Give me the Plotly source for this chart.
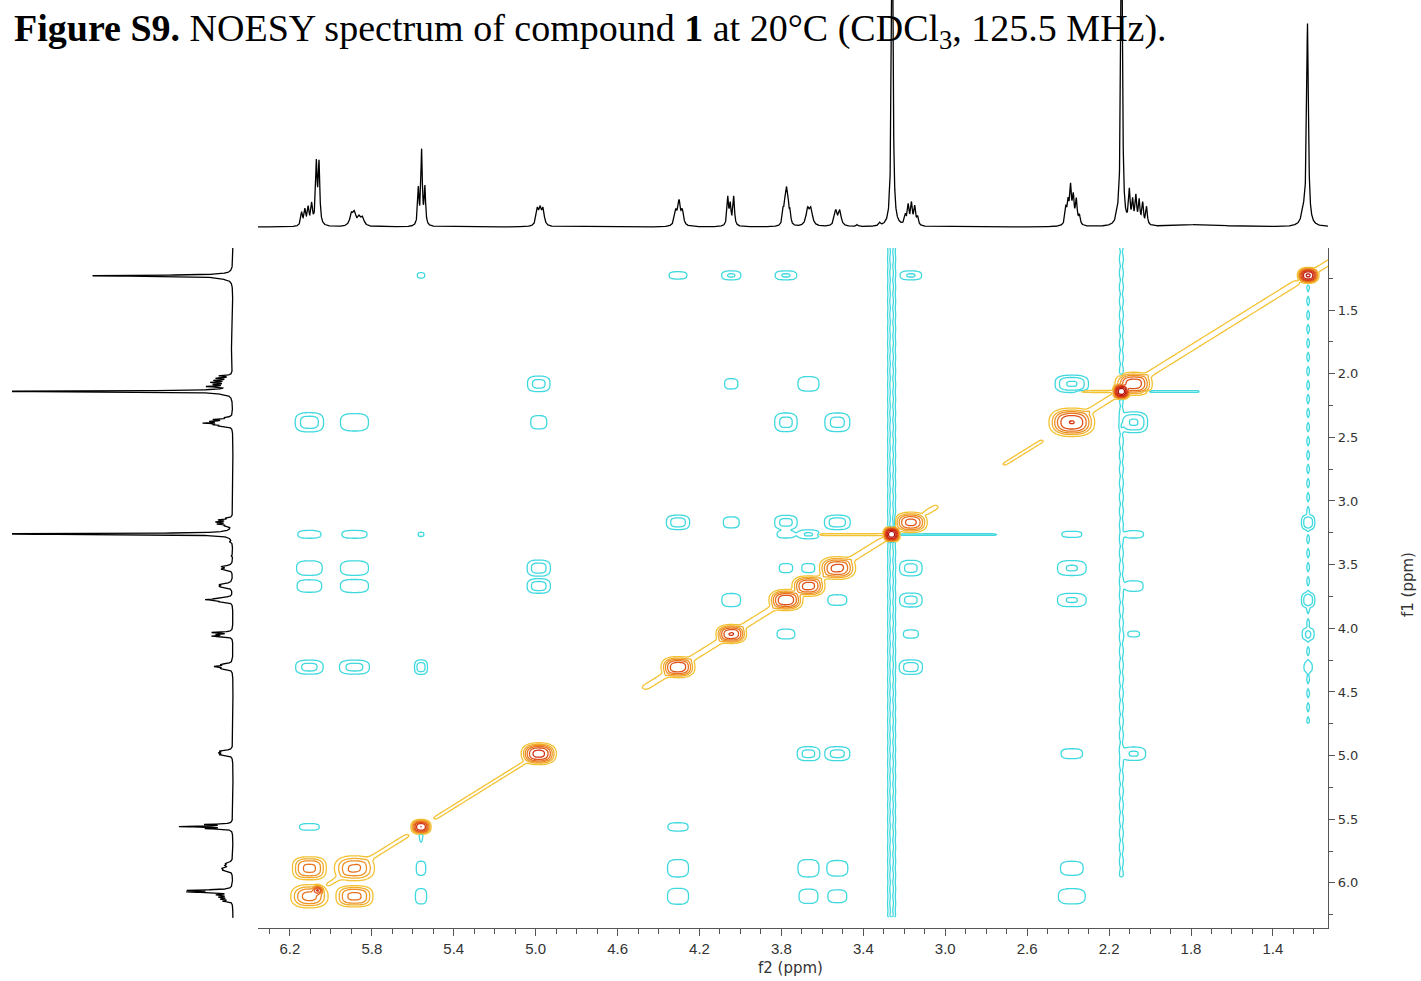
import numpy as np
import plotly.graph_objects as go

W, H = 1421, 981

# ---------------- 1D proton spectrum: line list (ppm, height, half-width) ----------------
line_ppm = [6.143, 6.127, 6.111, 6.094, 6.071, 6.058,
            5.900, 5.885, 5.862, 5.845,
            5.573, 5.557, 5.541,
            4.992, 4.978, 4.964,
            4.316, 4.300, 4.284,
            4.062, 4.050, 4.033,
            3.792, 3.783, 3.775, 3.767, 3.758,
            3.672, 3.656,
            3.535, 3.515,
            3.430, 3.320,
            3.259,
            3.195, 3.181, 3.165, 3.149, 3.135,
            2.411, 2.400, 2.388, 2.375, 2.360, 2.345,
            2.160, 2.139,
            2.101, 2.085, 2.069, 2.053, 2.036, 2.017,
            1.750,
            1.250, 1.231]
line_height = [13, 15, 17, 20, 60, 60,
               11, 12, 8, 8,
               36, 74, 37,
               16, 15, 16,
               14, 23, 14,
               28, 20, 29,
               14, 18, 30, 17, 12,
               16, 16,
               15, 15,
               2, 3,
               400,
               9, 19, 21, 18, 8,
               16, 20, 36, 26, 24, 9,
               6, 400,
               32, 22, 27, 23, 21, 18,
               2.5,
               12, 200]
line_hw = [0.005, 0.005, 0.005, 0.005, 0.0045, 0.0045,
           0.009, 0.009, 0.009, 0.009,
           0.004, 0.004, 0.004,
           0.007, 0.007, 0.007,
           0.007, 0.007, 0.007,
           0.0045, 0.0045, 0.0045,
           0.0045, 0.0045, 0.0045, 0.0045, 0.0045,
           0.009, 0.009,
           0.008, 0.008,
           0.005, 0.005,
           0.004,
           0.005, 0.005, 0.005, 0.005, 0.005,
           0.005, 0.005, 0.005, 0.005, 0.005, 0.005,
           0.007, 0.004,
           0.0045, 0.0045, 0.0045, 0.0045, 0.0045, 0.0045,
           0.12,
           0.012, 0.005]
left_scale = 0.69

# ---------------- 2D NOESY: protons ----------------
proton_id = ['A', 'B', 'C', 'D', 'E', 'F', 'G', 'H', 'I', 'J', 'K', 'L', 'M', 'N', 'O']
proton_ppm = [6.105, 5.885, 5.560, 4.985, 4.305, 4.045, 3.778, 3.668, 3.527, 3.262,
              3.168, 2.382, 2.140, 2.080, 1.228]
proton_hw = [0.055, 0.060, 0.025, 0.045, 0.045, 0.040, 0.045, 0.045, 0.050, 0.020,
             0.045, 0.060, 0.020, 0.050, 0.025]
diag_amp = [14, 12, 90, 60, 40, 45, 40, 30, 28, 300, 28, 45, 300, 35, 200]

# extra diagonal component (sharp 6.06 line)
extra_f2 = [6.065]
extra_f1 = [6.058]
extra_amp = [45]

# cross peaks (f2 proton, f1 proton, intensity; negative = NOE cross peak)
cross_f2 = ['C', 'E', 'F', 'G', 'K',
            'D', 'F', 'H', 'L',
            'A', 'B', 'D', 'G', 'I', 'N',
            'E', 'F', 'G', 'I', 'O',
            'A', 'B', 'C', 'G', 'H', 'L', 'N',
            'A', 'B', 'D', 'G', 'H', 'K', 'L',
            'A', 'B', 'D', 'N',
            'F', 'I', 'K', 'L', 'O',
            'G', 'K', 'N', 'O',
            'A', 'B', 'C', 'K', 'O',
            'H', 'I', 'L', 'N',
            'A', 'E',
            'A', 'C', 'E', 'H', 'I', 'L',
            'B', 'C', 'E', 'H', 'I', 'L']
cross_f1 = ['O', 'O', 'O', 'O', 'O',
            'N', 'N', 'N', 'N',
            'L', 'L', 'L', 'L', 'L', 'L',
            'K', 'K', 'K', 'K', 'K',
            'J', 'J', 'J', 'J', 'J', 'J', 'J',
            'I', 'I', 'I', 'I', 'I', 'I', 'I',
            'H', 'H', 'H', 'H',
            'G', 'G', 'G', 'G', 'G',
            'F', 'F', 'F', 'F',
            'E', 'E', 'E', 'E', 'E',
            'D', 'D', 'D', 'D',
            'C', 'C',
            'B', 'B', 'B', 'B', 'B', 'B',
            'A', 'A', 'A', 'A', 'A', 'A']
cross_amp = [-0.6, -1.0, -2.0, -2.0, -2.0,
             -2.5, -0.7, -1.8, -5.0,
             -3.0, -1.8, -0.8, -2.5, -2.5, -5.0,
             -3.0, -1.0, -2.5, -3.0, -3.5,
             -1.2, -1.2, -0.5, -1.0, -2.0, -0.7, -1.0,
             -1.8, -1.8, -3.0, -0.6, -0.6, -2.5, -2.0,
             -1.5, -1.8, -3.0, -0.9,
             -1.8, -0.9, -2.5, -2.0, -3.5,
             -1.0, -0.7, -0.5, -2.0,
             -2.5, -2.5, -3.0, -3.0, -0.7,
             -2.5, -2.5, -0.8, -2.0,
             -0.8, -1.5,
             12, -0.9, -1.8, -1.8, -1.2, -0.9,
             12, -1.5, -1.8, -1.2, -0.9, -1.5]

# weak diagonal ridge segments (ppm from, ppm to, intensity)
ridge_from = [6.02, 5.50, 4.47, 3.10, 2.72, 2.32, 1.20]
ridge_to = [5.62, 5.05, 3.30, 3.04, 2.52, 1.28, 1.10]
ridge_amp = [0.7, 0.6, 1.4, 1.0, 0.6, 1.5, 1.2]

# t1-noise streaks (vertical): f2 position, f1 extent, intensity
vstreak_f2 = [3.262, 2.140, 1.228, 5.560]
vstreak_lo = [1.00, 1.00, 1.30, 5.58]
vstreak_hi = [6.27, 5.95, 4.75, 5.68]
vstreak_amp = [-2.5, -0.9, -0.5, -1.0]
# horizontal streaks: f1 position, f2 extent, intensity
hstreak_f1 = [3.264, 3.264, 2.140, 2.140]
hstreak_lo = [3.27, 2.75, 2.15, 1.76]
hstreak_hi = [3.62, 3.25, 2.36, 2.13]
hstreak_amp = [1.0, -0.9, 1.0, -0.9]

# ---------------- build 1D traces ----------------
lp = np.array(line_ppm); lh = np.array(line_height); lw = np.array(line_hw)


def lorentz_sum(ax):
    d = ax[:, None] - lp[None, :]
    return (lh[None, :] * lw[None, :] ** 2 / (d ** 2 + lw[None, :] ** 2)).sum(axis=1)


x_top = np.arange(1.12, 6.37, 0.0005)
s_top = lorentz_sum(x_top)
y_left = np.arange(1.0, 6.275, 0.0005)
s_left = left_scale * lorentz_sum(y_left)

# ---------------- build 2D field ----------------
f2 = np.arange(1.12, 6.37, 0.006)
f1 = np.arange(1.0, 6.275, 0.008)
Z = np.zeros((f1.size, f2.size))
pos = dict(zip(proton_id, proton_ppm))
hw = dict(zip(proton_id, proton_hw))


def prof(d, w, p=3.0):
    return np.exp(-np.abs(d / w) ** p)


def win(t, a, b, e=0.01):
    lo, hi = min(a, b), max(a, b)
    return 0.5 * (np.tanh((t - lo) / e) - np.tanh((t - hi) / e))


for pid, a in zip(proton_id, diag_amp):
    c = pos[pid]; h = hw[pid]
    Z += a * np.outer(prof(f1 - c, max(h, 0.03), 2.5), prof(f2 - c, h, 2.5))
for x0, y0, a in zip(extra_f2, extra_f1, extra_amp):
    Z += a * np.outer(prof(f1 - y0, 0.02, 2), prof(f2 - x0, 0.015, 2))
for px, py, a in zip(cross_f2, cross_f1, cross_amp):
    Z += a * np.outer(prof(f1 - pos[py], max(hw[py], 0.03)), prof(f2 - pos[px], hw[px]))

X, Y = np.meshgrid(f2, f1)
S = 0.5 * (X + Y)
Dd = X - Y
for a0, b0, a in zip(ridge_from, ridge_to, ridge_amp):
    Z += a * win(S, a0, b0, 0.01) * np.exp(-(Dd / 0.024) ** 2)

for c, lo, hi, a in zip(vstreak_f2, vstreak_lo, vstreak_hi, vstreak_amp):
    strong = abs(a) > 2
    texture = 1 + (0.12 if strong else 0.35) * np.cos(2 * np.pi * f1 / 0.11)
    wid = 0.014 if strong else 0.009
    Z += a * np.outer(win(f1, lo, hi) * texture, prof(f2 - c, wid, 2))
for c, lo, hi, a in zip(hstreak_f1, hstreak_lo, hstreak_hi, hstreak_amp):
    Z += a * np.outer(prof(f1 - c, 0.008, 2), win(f2, lo, hi))

Zt = (np.sign(Z) * np.log2(1 + np.abs(Z))).astype(np.float32)

cscale = [[0.0, '#3ed8de'], [0.5, '#3ed8de'], [0.51, '#f3c332'], [0.531, '#f3c332'],
          [0.594, '#f1b02e'], [0.656, '#ee9526'], [0.719, '#e97a20'], [0.781, '#e15a1a'],
          [0.844, '#d83c14'], [0.906, '#cc2610'], [1.0, '#b3120a']]

fig = go.Figure()
fig.add_trace(go.Contour(
    x=f2, y=f1, z=Zt, xaxis='x', yaxis='y',
    autocontour=False,
    contours=dict(start=-7.5, end=7.5, size=1, coloring='lines'),
    line=dict(width=1.3), colorscale=cscale, zauto=False, zmin=-8, zmax=8,
    showscale=False, hoverinfo='skip'))
fig.add_trace(go.Scatter(x=x_top, y=s_top, xaxis='x2', yaxis='y2', mode='lines',
                         line=dict(color='black', width=1.3), hoverinfo='skip'))
fig.add_trace(go.Scatter(x=s_left, y=y_left, xaxis='x3', yaxis='y', mode='lines',
                         line=dict(color='black', width=1.3), hoverinfo='skip'))

xl, xr = 258 / W, 1328 / W
tickfont_x = dict(family='Liberation Sans', size=15, color='#333')
tickfont_y = dict(family='DejaVu Sans', size=13, color='#333')

fig.update_layout(
    width=W, height=H, margin=dict(l=0, r=0, t=0, b=0),
    paper_bgcolor='white', plot_bgcolor='white', showlegend=False,
    xaxis=dict(domain=[xl, xr], range=[6.356, 1.131], anchor='y',
               showline=True, linecolor='#555', linewidth=1.2, mirror=False,
               ticks='outside', ticklen=7, tickcolor='#555', tick0=0.2, dtick=0.4,
               minor=dict(dtick=0.1, ticklen=5, ticks='outside', tickcolor='#555'),
               tickformat='.1f', tickfont=tickfont_x, showgrid=False, zeroline=False),
    yaxis=dict(domain=[53 / H, 733 / H], range=[6.354, 1.013], anchor='x', side='right',
               showline=True, linecolor='#555', linewidth=1.2,
               ticks='outside', ticklen=6, tickcolor='#555', tick0=0, dtick=0.5,
               minor=dict(dtick=0.25, ticklen=4, ticks='outside', tickcolor='#555'),
               tickformat='.1f', tickfont=tickfont_y, showgrid=False, zeroline=False),
    xaxis2=dict(domain=[xl, xr], matches='x', anchor='y2', visible=False),
    yaxis2=dict(domain=[749 / H, 1.0], range=[-5, 227], anchor='x2', visible=False),
    xaxis3=dict(domain=[12 / W, 236 / W], range=[221, -3], anchor='y', visible=False),
)

fig.add_annotation(
    x=12 / W, y=1 - 31 / H, xref='paper', yref='paper', xanchor='left', yanchor='middle',
    showarrow=False,
    text='<b>Figure S9.</b> NOESY spectrum of compound <b>1</b> at 20°C (CDCl<sub>3</sub>, 125.5 MHz).',
    font=dict(family='Liberation Serif', size=38, color='black'))
fig.add_annotation(
    x=790 / W, y=1 - 968 / H, xref='paper', yref='paper', xanchor='center', yanchor='middle',
    showarrow=False, text='f2 (ppm)', font=dict(family='DejaVu Sans', size=15, color='#333'))
fig.add_annotation(
    x=1408 / W, y=1 - 585 / H, xref='paper', yref='paper', xanchor='center', yanchor='middle',
    showarrow=False, text='f1 (ppm)', textangle=-90,
    font=dict(family='DejaVu Sans', size=15, color='#333'))

fig.write_html('out.html')
